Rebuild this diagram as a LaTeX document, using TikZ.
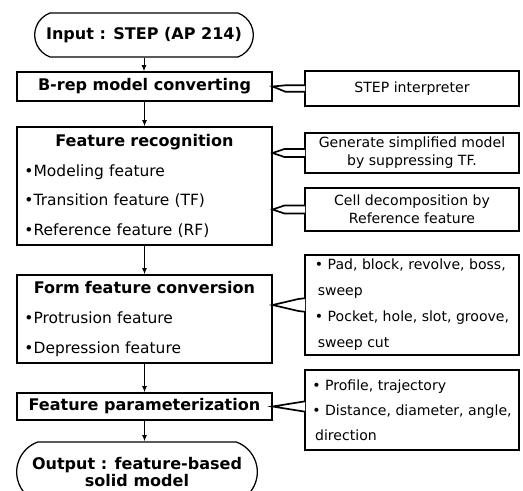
\documentclass[tikz,border=0pt]{standalone}
\usepackage{fontspec}
\setmainfont{DejaVu Sans}
\usetikzlibrary{shapes.misc,arrows.meta,calc}

\begin{document}
\begin{tikzpicture}[
    every node/.style={font=\fontsize{11}{21}\selectfont},
    mainbox/.style={draw, rectangle, line width=0.9pt, minimum width=6.375cm, inner sep=3pt},
    sidebox/.style={draw, rectangle, fill=white, line width=0.9pt, minimum width=5.35cm, inner sep=3pt, font=\fontsize{10}{12.8}\selectfont},
    terminal/.style={draw, rounded rectangle, rounded rectangle arc length=140, line width=0.9pt, align=center, font=\bfseries\fontsize{11.4}{12.2}\selectfont},
    flow/.style={-{Latex[length=4.5pt,width=3.5pt]}, line width=0.7pt},
    callout/.style={draw, fill=white, line width=1.2pt, line join=miter}]
    \useasboundingbox (0,0) rectangle (13.075,-12.275);

    % Start and end
    \node[terminal, minimum width=5.7cm, minimum height=1.1cm] (input) at (3.6,-0.875) {Input : STEP (AP 214)};
    \node[terminal, minimum width=6.25cm, minimum height=1.5cm] (output) at (3.425,-11.8) {Output : feature-based\\solid model};

    % Main steps - left column
    \node[mainbox, minimum height=0.725cm, font=\bfseries\fontsize{11.4}{13}\selectfont] (brep) at (3.6125,-2.1625) {B-rep model converting};
    \node[mainbox, minimum height=2.95cm, text width=6.0cm, align=left] (recog) at (3.6125,-4.65)
        {{\centering\bfseries\fontsize{11.4}{21}\selectfont Feature recognition\par}%
         •Modeling feature\\•Transition feature (TF)\\•Reference feature (RF)};
    \node[mainbox, minimum height=2.2cm, text width=6.0cm, align=left] (form) at (3.6125,-7.975)
        {{\centering\bfseries\fontsize{11.4}{21}\selectfont Form feature conversion\par}%
         •Protrusion feature\\•Depression feature};
    \node[mainbox, minimum height=0.675cm, font=\bfseries\fontsize{11.4}{13}\selectfont] (param) at (3.6125,-10.1625) {Feature parameterization};

    % Notes - right column
    \node[sidebox, minimum height=0.875cm] (step) at (10.3,-2.2125) {STEP interpreter};
    \node[sidebox, minimum height=1.0cm, align=center] (gen) at (10.3,-3.825) {Generate simplified model\\by suppressing TF.};
    \node[sidebox, minimum height=1.075cm, align=center] (cell) at (10.3,-5.2375) {Cell decomposition by\\Reference feature};
    \node[sidebox, minimum height=2.5cm, align=left, font=\fontsize{10}{18.5}\selectfont] (pad) at (10.3,-7.625)
        {• Pad, block, revolve, boss,\\\hspace*{2pt}sweep\\• Pocket, hole, slot, groove,\\\hspace*{2pt}sweep cut};
    \node[sidebox, minimum height=2.0cm, align=left, font=\fontsize{10}{17.8}\selectfont] (paramr) at (10.3,-10.25)
        {• Profile, trajectory\\• Distance, diameter, angle,\\\hspace*{2pt}direction};

    % Flow arrows
    \draw[flow] (input.south) -- (input.south |- brep.north);
    \draw[flow] (brep) -- (recog);
    \draw[flow] (recog) -- (form);
    \draw[flow] (form) -- (param);
    \draw[flow] (param.south) -- (param.south |- output.north);

    % Callouts from notes to steps
    \draw[callout] ($(step.west)+(0.02,0.08)$) -- ($(step.west)+(-0.475,0.08)$) -- (brep.east)
        -- ($(step.west)+(-0.475,-0.08)$) -- ($(step.west)+(0.02,-0.08)$);
    \draw[callout] ($(gen.west)+(0.02,0.1)$) -- ($(gen.west)+(-0.5,0.1)$) -- (recog.east |- gen.west)
        -- ($(gen.west)+(-0.5,-0.1)$) -- ($(gen.west)+(0.02,-0.1)$);
    \draw[callout] ($(cell.west)+(0.02,0.1)$) -- ($(cell.west)+(-0.5,0.1)$) -- (recog.east |- cell.west)
        -- ($(cell.west)+(-0.5,-0.1)$) -- ($(cell.west)+(0.02,-0.1)$);
    \draw[callout] ($(pad.west)+(0.02,0.17)$) -- ($(pad.west)+(-0.15,0.15)$) -- (form.east |- pad.west)
        -- ($(pad.west)+(-0.15,-0.15)$) -- ($(pad.west)+(0.02,-0.17)$);
    \draw[callout] ($(paramr.west |- param.east)+(0.02,0.13)$) -- (param.east)
        -- ($(paramr.west |- param.east)+(0.02,-0.13)$);
\end{tikzpicture}
\end{document}
